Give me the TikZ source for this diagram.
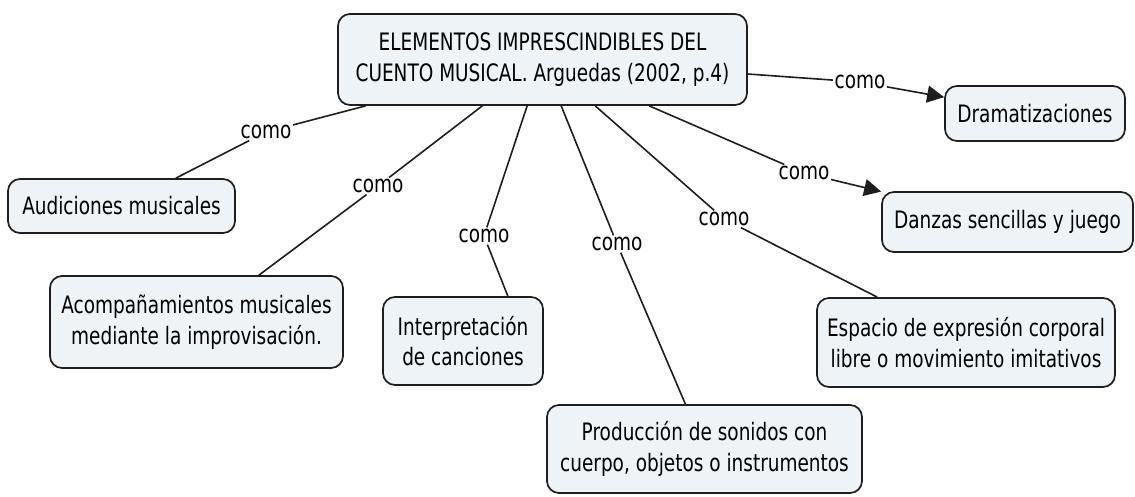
\documentclass[tikz,border=0pt]{standalone}
\usepackage{fontspec}
\setmainfont{DejaVu Sans}[FakeStretch=0.77]
\usetikzlibrary{arrows.meta}
\definecolor{boxfill}{RGB}{237,243,246}
\definecolor{edge}{RGB}{30,30,30}
\begin{document}
\begin{tikzpicture}[x=1pt,y=-1pt,
  concept/.style={draw=edge, line width=1.7pt, rounded corners=12pt, fill=boxfill,
    align=center, inner sep=0pt, font=\fontsize{24}{30.5}\selectfont},
  lab/.style={inner sep=1.5pt, font=\fontsize{24}{26}\selectfont},
  link/.style={draw=edge, line width=1.6pt},
  arrowlink/.style={link, -{Triangle[length=17pt,width=17pt]}}
]
\useasboundingbox (0,0) rectangle (1135,496);

% concepts
\node[concept, minimum width=409pt, minimum height=91pt] (main) at (542.5,59.5)
  {ELEMENTOS IMPRESCINDIBLES DEL\\CUENTO MUSICAL. Arguedas (2002, p.4)};
\node[concept, minimum width=180pt, minimum height=55pt] (dram) at (1035,113.5) {Dramatizaciones};
\node[concept, minimum width=251pt, minimum height=60pt] (danz) at (1007.5,222) {Danzas sencillas y juego};
\node[concept, minimum width=227pt, minimum height=54pt] (aud) at (121.5,206) {Audiciones musicales};
\node[concept, minimum width=293pt, minimum height=92pt] (acomp) at (196.5,322)
  {Acompañamientos musicales\\mediante la improvisación.};
\node[concept, minimum width=160pt, minimum height=88pt] (interp) at (463,341)
  {Interpretación\\de canciones};
\node[concept, minimum width=315pt, minimum height=88pt] (prod) at (704.5,449)
  {Producción de sonidos con\\cuerpo, objetos o instrumentos};
\node[concept, minimum width=298pt, minimum height=89pt] (esp) at (966,342.5)
  {Espacio de expresión corporal\\libre o movimiento imitativos};

% linking phrases
\node[lab] (c1) at (266,132) {como};
\node[lab] (c2) at (378,186) {como};
\node[lab] (c3) at (484,236) {como};
\node[lab] (c4) at (617,244) {como};
\node[lab] (c5) at (724,219) {como};
\node[lab] (c6) at (804,173) {como};
\node[lab] (c7) at (860,82) {como};

% connectors
\draw[link] (main) -- (c1);
\draw[link] (c1) -- (aud);
\draw[link] (main) -- (c2);
\draw[link] (c2) -- (acomp);
\draw[link] (main) -- (c3);
\draw[link] (c3) -- (interp.45);
\draw[link] (main) -- (c4);
\draw[link] (c4) -- (prod);
\draw[link] (main) -- (c5);
\draw[link] (c5) -- (esp);
\draw[link] (main) -- (c6);
\draw[arrowlink] (c6) -- (danz);
\draw[link] (main) -- (c7);
\draw[arrowlink] (c7) -- (dram);
\end{tikzpicture}
\end{document}
